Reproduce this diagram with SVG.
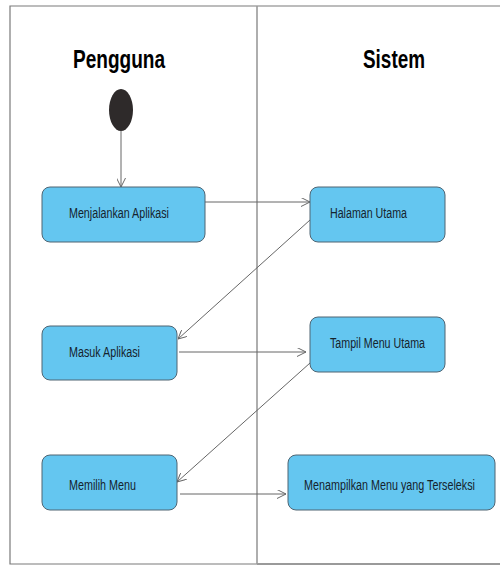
<svg xmlns="http://www.w3.org/2000/svg" width="500" height="566" viewBox="0 0 500 566">
<style>
.frame{fill:none;stroke:#7a7a7a;stroke-width:1.2}
.div{stroke:#9a9a9a;stroke-width:1.6}
.node rect{fill:#64c6f0;stroke:#4f6573;stroke-width:1}
.node text{font-family:"Liberation Sans",Arial,sans-serif;font-size:15.5px;fill:#15232d}
.title{font-family:"Liberation Sans",Arial,sans-serif;font-size:25px;font-weight:bold;fill:#000}
.conn{fill:none;stroke:#666;stroke-width:1}
</style>
<defs>
<marker id="arr" viewBox="0 0 10 10" refX="10" refY="5" markerWidth="9" markerHeight="9" markerUnits="userSpaceOnUse" orient="auto">
<path d="M0,0 L10,5 L0,10" fill="none" stroke="#666" stroke-width="1.1"/>
</marker>
</defs>
<rect width="500" height="566" fill="#fff"/>
<g id="frame">
<path class="frame" d="M500,6 L10,6 L10,564 L257,564"/>
<line class="div" x1="257" y1="6" x2="257" y2="564"/>
<line x1="257" y1="564" x2="500" y2="564" stroke="#9a9a9a" stroke-width="1.8"/>
</g>
<g id="lane-titles">
<text class="title" x="119" y="68" text-anchor="middle" textLength="92" lengthAdjust="spacingAndGlyphs">Pengguna</text>
<text class="title" x="394" y="68" text-anchor="middle" textLength="62" lengthAdjust="spacingAndGlyphs">Sistem</text>
</g>
<g id="connectors">
<line class="conn" x1="121" y1="131" x2="121" y2="187" marker-end="url(#arr)"/>
<line class="conn" x1="205" y1="202" x2="310" y2="202" marker-end="url(#arr)"/>
<line class="conn" x1="310" y1="220" x2="178" y2="339" marker-end="url(#arr)"/>
<line class="conn" x1="179" y1="352" x2="306" y2="352" marker-end="url(#arr)"/>
<line class="conn" x1="310" y1="363" x2="177" y2="482" marker-end="url(#arr)"/>
<line class="conn" x1="180" y1="494" x2="286" y2="494" marker-end="url(#arr)"/>
</g>
<g id="start">
<ellipse cx="121" cy="110" rx="12" ry="21" fill="#2e2a2a"/>
</g>
<g id="n1" class="node">
<rect x="42" y="187" width="163" height="55" rx="8"/>
<text x="69" y="218" textLength="100" lengthAdjust="spacingAndGlyphs">Menjalankan Aplikasi</text>
</g>
<g id="n2" class="node">
<rect x="310" y="187" width="135" height="55" rx="8"/>
<text x="330" y="218" textLength="77" lengthAdjust="spacingAndGlyphs">Halaman Utama</text>
</g>
<g id="n3" class="node">
<rect x="42" y="326" width="135" height="54" rx="8"/>
<text x="69" y="357" textLength="71" lengthAdjust="spacingAndGlyphs">Masuk Aplikasi</text>
</g>
<g id="n4" class="node">
<rect x="310" y="317" width="135" height="55" rx="8"/>
<text x="330" y="348" textLength="95" lengthAdjust="spacingAndGlyphs">Tampil Menu Utama</text>
</g>
<g id="n5" class="node">
<rect x="42" y="455" width="135" height="55" rx="8"/>
<text x="69" y="490" textLength="67" lengthAdjust="spacingAndGlyphs">Memilih Menu</text>
</g>
<g id="n6" class="node">
<rect x="288" y="455" width="207" height="55" rx="8"/>
<text x="304" y="490" textLength="171" lengthAdjust="spacingAndGlyphs">Menampilkan Menu yang Terseleksi</text>
</g>
</svg>
